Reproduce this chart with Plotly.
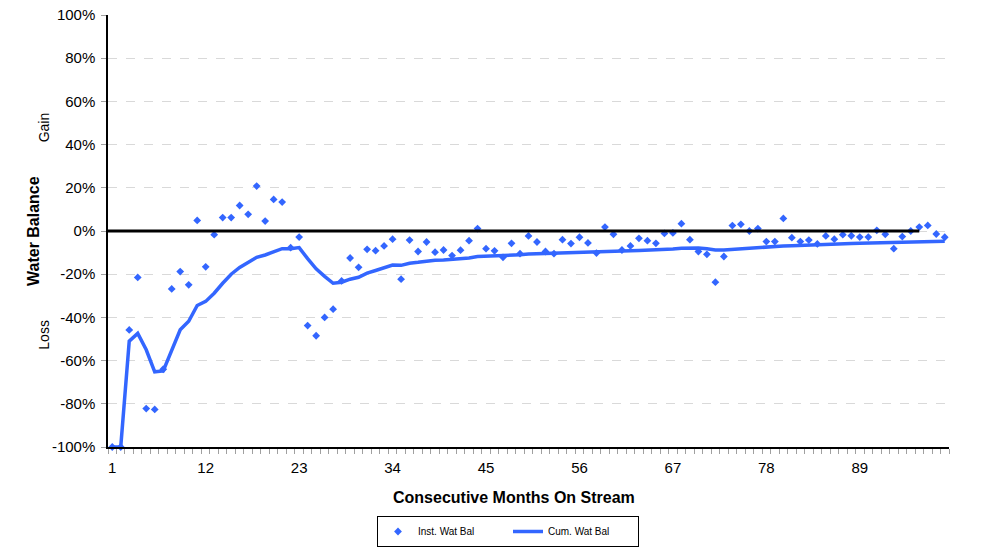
import plotly.graph_objects as go

months = list(range(1, 100))

inst_wat_bal = [
    -100, -100, -45.8, -21.5, -82.2, -82.6, -64.0, -26.8, -18.8, -24.9,
    4.9, -16.6, -1.7, 6.2, 6.2, 11.8, 7.7, 20.8, 4.6, 14.6,
    13.4, -7.7, -2.8, -43.8, -48.5, -40.0, -36.2, -23.1, -12.5, -16.8,
    -8.5, -9.1, -6.9, -3.8, -22.3, -4.2, -9.5, -5.1, -9.8, -8.8,
    -11.4, -8.9, -4.5, 1.1, -8.2, -9.2, -12.2, -5.7, -10.5, -2.3,
    -5.1, -9.5, -10.5, -4.0, -5.8, -2.9, -5.5, -10.2, 1.8, -1.5,
    -8.8, -6.9, -3.4, -4.5, -5.7, -1.1, -0.9, 3.4, -4.0, -9.5,
    -10.8, -23.7, -11.8, 2.5, 3.1, 0.0, 1.1, -4.9, -4.9, 5.8,
    -3.1, -4.9, -4.2, -6.0, -2.3, -3.8, -1.7, -2.2, -2.8, -2.8,
    0.3, -1.5, -8.2, -2.6, 0.0, 1.8, 2.6, -1.4, -2.9,
]

cum_wat_bal = [
    -100, -100, -51.0, -47.4, -55.0, -65.2, -64.8, -55.0, -45.7, -41.8,
    -34.5, -32.6, -28.8, -24.2, -20.0, -16.9, -14.5, -12.2, -11.1, -9.8,
    -8.2, -8.2, -7.7, -12.8, -17.5, -21.0, -24.2, -23.7, -22.3, -21.4,
    -19.5, -18.3, -17.1, -15.8, -15.9, -14.9, -14.5, -13.8, -13.5, -13.4,
    -13.2, -12.9, -12.5, -11.8, -11.7, -11.5, -11.5, -11.2, -11.0, -10.7,
    -10.6, -10.5, -10.3, -10.2, -10.1, -10.0, -9.9, -9.8, -9.6, -9.5,
    -9.3, -9.2, -9.0, -8.9, -8.7, -8.5, -8.3, -8.0, -7.8, -7.9,
    -8.2, -8.8, -8.8, -8.5, -8.1, -7.7, -7.4, -7.2, -7.0, -6.9,
    -6.8, -6.6, -6.5, -6.3, -6.2, -6.1, -6.0, -5.8, -5.7, -5.6,
    -5.5, -5.5, -5.4, -5.3, -5.2, -5.1, -5.0, -4.9, -4.8,
]

x_tick_labels = [1, 12, 23, 34, 45, 56, 67, 78, 89]
y_ticks = [-100, -80, -60, -40, -20, 0, 20, 40, 60, 80, 100]

FONT = "Liberation Sans, Arial, sans-serif"
BLUE = "#3366FF"

fig = go.Figure()

fig.add_trace(go.Scatter(
    x=months, y=inst_wat_bal, mode="markers", name="Inst. Wat Bal",
    marker=dict(symbol="diamond", size=6, color=BLUE, line=dict(width=0)),
    cliponaxis=False,
))
fig.add_trace(go.Scatter(
    x=months, y=cum_wat_bal, mode="lines", name="Cum. Wat Bal",
    line=dict(color=BLUE, width=3.5),
))

# zero reference line
fig.add_shape(type="line", xref="x", yref="y", x0=0.5, x1=96, y0=0, y1=0,
              line=dict(color="black", width=3), layer="above")

W, H = 984, 548
PLOT_L, PLOT_R, PLOT_T, PLOT_B = 108, 35, 15, 101
PLOT_H = H - PLOT_T - PLOT_B
PLOT_W = W - PLOT_L - PLOT_R

fig.update_layout(
    width=W, height=H,
    margin=dict(l=PLOT_L, r=PLOT_R, t=PLOT_T, b=PLOT_B, autoexpand=False),
    paper_bgcolor="white", plot_bgcolor="white",
    font=dict(family=FONT, size=15, color="black"),
    showlegend=True,
    legend=dict(
        orientation="h", x=(508 - PLOT_L) / PLOT_W, xanchor="center",
        yref="container", y=1 - 516 / H, yanchor="top",
        bordercolor="black", borderwidth=1, font=dict(size=10, family=FONT),
        entrywidth=85, entrywidthmode="pixels", tracegroupgap=0,
    ),
)

fig.update_xaxes(
    range=[0.5, 99.5], tickmode="array", tickvals=x_tick_labels,
    ticktext=[str(v) for v in x_tick_labels], ticks="",
    ticklabelstandoff=6, automargin=False,
    tickfont=dict(size=15, family=FONT),
    showgrid=False, zeroline=False,
    showline=True, linecolor="black", linewidth=1.5,
    minor=dict(ticks="outside", tick0=0.5, dtick=1, ticklen=5,
               tickcolor="#a0a0a0", tickwidth=1, showgrid=False),
    title=None,
)

fig.update_yaxes(
    range=[-100, 100], tickmode="array", tickvals=y_ticks,
    ticktext=[f"{v}%" for v in y_ticks],
    ticks="outside", ticklen=5, tickcolor="#a0a0a0", automargin=False,
    ticklabelstandoff=3, ticklabeloverflow="allow",
    tickfont=dict(size=15, family=FONT),
    showgrid=True, gridcolor="#d9d9d9", griddash="dash", gridwidth=1,
    zeroline=False,
    showline=True, linecolor="black", linewidth=1.5,
    title=None,
)

fig.add_annotation(text="<b>Consecutive Months On Stream</b>", xref="paper", yref="paper",
                   x=(514 - PLOT_L) / PLOT_W, y=(H - PLOT_B - 497) / PLOT_H, showarrow=False,
                   font=dict(size=16, family=FONT), xanchor="center", yanchor="middle")
fig.add_annotation(text="<b>Water Balance</b>", xref="paper", yref="paper",
                   x=(33 - PLOT_L) / PLOT_W, y=0.5, showarrow=False, textangle=-90,
                   font=dict(size=16, family=FONT), xanchor="center", yanchor="middle")
fig.add_annotation(text="Gain", xref="paper", yref="y",
                   x=(44 - PLOT_L) / PLOT_W, y=48, showarrow=False, textangle=-90,
                   font=dict(size=14, family=FONT), xanchor="center", yanchor="middle")
fig.add_annotation(text="Loss", xref="paper", yref="y",
                   x=(44 - PLOT_L) / PLOT_W, y=-48, showarrow=False, textangle=-90,
                   font=dict(size=14, family=FONT), xanchor="center", yanchor="middle")

fig.write_html("out.html", post_script="document.body.style.margin='0';",
               config={"displayModeBar": False})
